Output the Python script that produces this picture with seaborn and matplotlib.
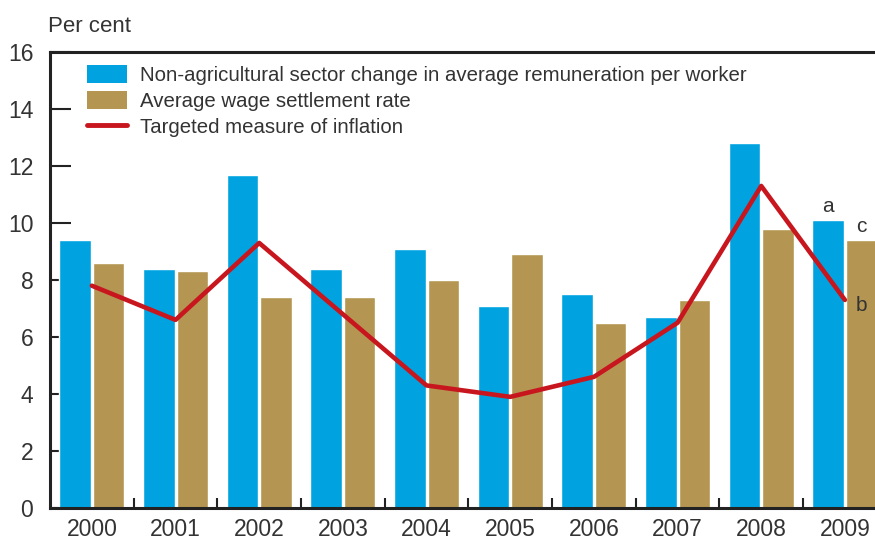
import numpy as np
import pandas as pd
import matplotlib
matplotlib.use("Agg")
import matplotlib.pyplot as plt
from matplotlib.patches import Patch
from matplotlib.lines import Line2D
from matplotlib.ticker import FixedLocator
import seaborn as sns

years = ["2000", "2001", "2002", "2003", "2004", "2005", "2006", "2007", "2008", "2009"]
remuneration = [9.4, 8.4, 11.7, 8.4, 9.1, 7.1, 7.5, 6.7, 12.8, 10.1]
wage_settlement = [8.6, 8.3, 7.4, 7.4, 8.0, 8.9, 6.5, 7.3, 9.8, 9.4]
inflation = [7.8, 6.6, 9.3, 6.8, 4.3, 3.9, 4.6, 6.5, 11.3, 7.3]

label_rem = "Non-agricultural sector change in average remuneration per worker"
label_wage = "Average wage settlement rate"
label_inf = "Targeted measure of inflation"

blue = "#00A3E0"
gold = "#B49652"
red = "#C8161E"
text_col = "#333333"

sns.set_style("white")
plt.rcParams["font.family"] = ["Liberation Sans", "DejaVu Sans"]

bars = pd.DataFrame({
    "year": years * 2,
    "value": remuneration + wage_settlement,
    "series": [label_rem] * len(years) + [label_wage] * len(years),
})
line = pd.DataFrame({"pos": np.arange(len(years)), "value": inflation})

fig = plt.figure(figsize=(8.75, 5.4), dpi=100)
ax = fig.add_axes([50 / 875, 32 / 540, 1 - 50 / 875, 456 / 540])

sns.barplot(data=bars, x="year", y="value", hue="series", saturation=1,
            palette=[blue, gold], width=0.8, gap=0.06, ax=ax, legend=False)
sns.lineplot(data=line, x="pos", y="value", color=red, linewidth=3.3, ax=ax)

ax.set_xlim(-0.5, 9.36)
ax.set_ylim(0, 16)
ax.set_yticks(range(0, 17, 2))
ax.set_xlabel("")
ax.set_ylabel("")

ax.tick_params(axis="y", left=True, direction="in", length=15, width=1.5, pad=12,
               labelsize=16.5, labelcolor=text_col, color="#222222")
ax.tick_params(axis="x", which="major", length=0, pad=7,
               labelsize=16.5, labelcolor=text_col)
ax.xaxis.set_minor_locator(FixedLocator(np.arange(0.5, 9, 1)))
ax.tick_params(axis="x", which="minor", bottom=True, direction="in", length=7,
               width=1.5, color="#222222")

for side in ["left", "bottom", "top"]:
    ax.spines[side].set_linewidth(2.2)
    ax.spines[side].set_color("#222222")
ax.spines["right"].set_visible(False)

fig.text(48 / 875, 1 - 27 / 540, "Per cent", fontsize=16, color=text_col,
         ha="left", va="center")

ax.text(9 - 0.2, 10.25, "a", ha="center", va="bottom", fontsize=15, color=text_col)
ax.text(9 + 0.2, 9.55, "c", ha="center", va="bottom", fontsize=15, color=text_col)
ax.text(9 + 0.2, 7.1, "b", ha="center", va="center", fontsize=15, color=text_col)

handles = [
    Patch(facecolor=blue, edgecolor="none"),
    Patch(facecolor=gold, edgecolor="none"),
    Line2D([0], [0], color=red, linewidth=3.5),
]
ax.legend(handles, [label_rem, label_wage, label_inf], loc="upper left",
          bbox_to_anchor=(0.035, 0.99), frameon=False, fontsize=14.7,
          handlelength=1.95, handleheight=1.0, handletextpad=0.62,
          labelspacing=0.3, labelcolor=text_col, borderaxespad=0)

fig.savefig("out.png", dpi=100)
